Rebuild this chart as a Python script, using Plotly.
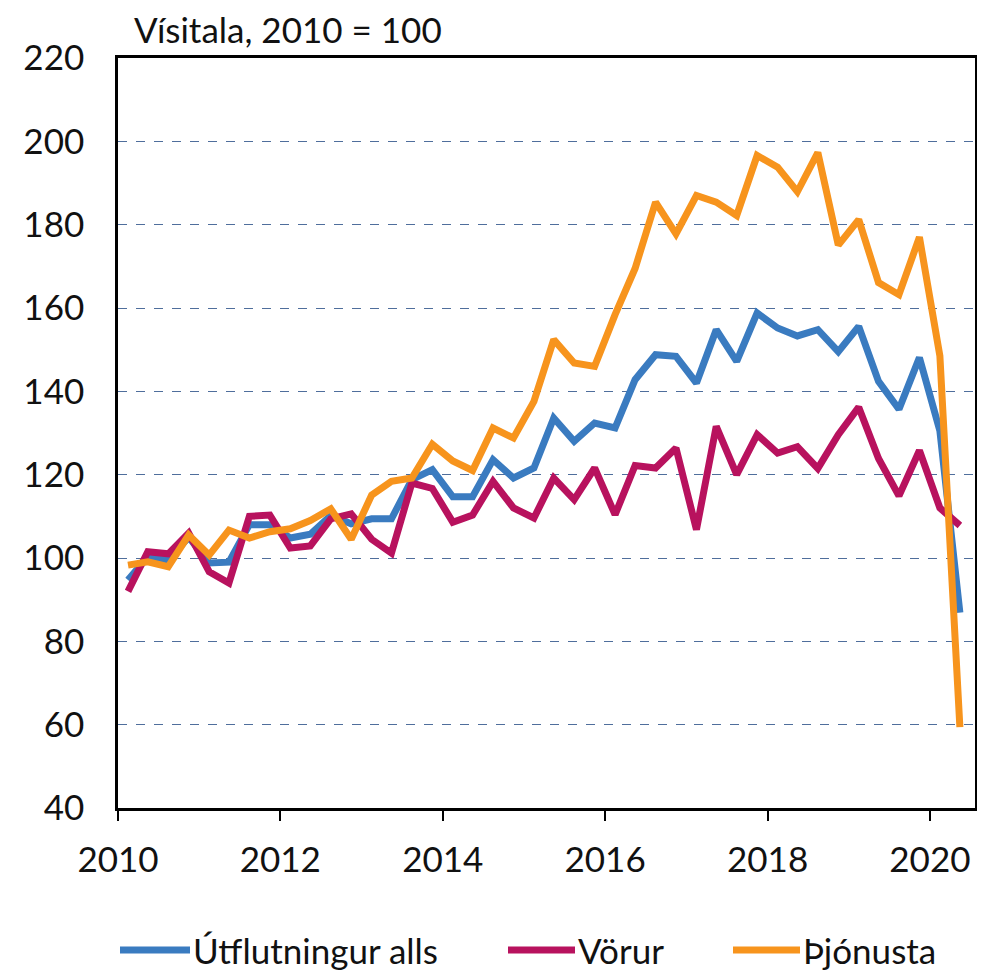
import plotly.graph_objects as go

# Quarterly observations 2010Q1 - 2020Q2 (plotted at mid-quarter)
quarters = [f"{y}Q{q}" for y in range(2010, 2021) for q in range(1, 5)][:42]
mid_month = {1: "02-15", 2: "05-15", 3: "08-15", 4: "11-15"}
dates = [f"{q[:4]}-{mid_month[int(q[-1])]}" for q in quarters]

utflutningur_alls = [
    94.7, 100.3, 99.5, 105.0, 98.8, 99.0, 108.0, 108.0,
    104.8, 105.7, 110.2, 108.2, 109.4, 109.4, 118.8, 121.2,
    114.7, 114.7, 123.6, 119.2, 121.6, 133.6, 128.0, 132.4,
    131.2, 142.8, 148.8, 148.4, 142.0, 154.8, 147.2, 158.8,
    155.2, 153.3, 154.8, 149.5, 155.6, 142.4, 135.7, 148.1,
    130.5, 86.9,
]
vorur = [
    92.0, 101.5, 101.0, 106.0, 96.7, 94.0, 110.0, 110.3,
    102.4, 102.9, 109.4, 110.6, 104.5, 101.2, 118.0, 116.7,
    108.6, 110.3, 118.4, 112.0, 109.6, 119.2, 114.0, 121.6,
    110.4, 122.2, 121.6, 126.4, 106.8, 131.6, 120.0, 129.6,
    125.2, 126.7, 121.5, 129.6, 136.2, 123.9, 114.9, 125.8,
    112.0, 107.8,
]
thjonusta = [
    98.3, 99.1, 97.9, 105.5, 100.7, 106.7, 104.8, 106.3,
    107.0, 109.0, 111.8, 104.5, 115.1, 118.4, 119.2, 127.3,
    123.3, 121.0, 131.2, 128.8, 137.6, 152.4, 146.8, 146.0,
    158.4, 169.5, 185.4, 177.8, 187.0, 185.4, 182.2, 196.6,
    193.8, 187.9, 197.3, 175.1, 181.2, 166.1, 163.2, 177.0,
    148.5, 59.4,
]

series_names = ["Útflutningur alls", "Vörur", "Þjónusta"]
series_colors = ["#3A7BC0", "#B8125E", "#F7941D"]
x_tick_years = [2010, 2012, 2014, 2016, 2018, 2020]
y_ticks = list(range(40, 221, 20))

FONT = "Lato"
TXT = "#111111"
# the page body adds an 8px offset; figure coordinates are window minus 8
W, H = 977, 966
ML, MR, MT, MB = 110, 10, 50, 166
PW, PH = W - ML - MR, H - MT - MB

fig = go.Figure()
for name, vals, col in zip(series_names, [utflutningur_alls, vorur, thjonusta], series_colors):
    fig.add_trace(go.Scatter(
        x=dates, y=vals, name=name, mode="lines",
        line=dict(color=col, width=7),
    ))

# Legend drawn below the plot (long line samples as in the original)
legend_line_px = [(112, 182), (500, 567), (725, 792)]
legend_y_px = 942
shapes, annotations = [], []
for (x0, x1), name, col in zip(legend_line_px, series_names, series_colors):
    yp = (MT + PH - legend_y_px) / PH
    shapes.append(dict(
        type="line", xref="paper", yref="paper",
        x0=(x0 - ML) / PW, x1=(x1 - ML) / PW, y0=yp, y1=yp,
        line=dict(color=col, width=7),
    ))
    annotations.append(dict(
        text=name, xref="paper", yref="paper",
        x=(x1 + 1 - ML) / PW, y=yp, xanchor="left", yanchor="middle",
        showarrow=False, font=dict(family=FONT, size=35, color=TXT),
    ))

annotations.append(dict(
    text="Vísitala, 2010 = 100", xref="paper", yref="paper",
    x=0.016, y=1.0, xanchor="left", yanchor="bottom", yshift=6,
    showarrow=False, font=dict(family=FONT, size=35, color=TXT),
))

fig.update_layout(
    width=W, height=H,
    margin=dict(l=ML, r=MR, t=MT, b=MB, autoexpand=False),
    paper_bgcolor="white", plot_bgcolor="white",
    font=dict(family=FONT, size=35, color=TXT),
    showlegend=False,
    shapes=shapes,
    annotations=annotations,
)

fig.update_xaxes(
    type="date",
    range=["2010-01-01", "2020-07-22"],
    tickvals=[f"{y}-01-01" for y in x_tick_years],
    ticktext=[str(y) for y in x_tick_years],
    ticks="outside", ticklen=10, tickwidth=2, tickcolor="black",
    showline=True, linecolor="black", linewidth=2.5, mirror=True,
    showgrid=False, zeroline=False, automargin=False,
    ticklabelstandoff=9,
)
fig.update_yaxes(
    range=[40, 220], tickvals=y_ticks,
    ticks="", showline=True, linecolor="black", linewidth=2.5, mirror=True,
    showgrid=True, gridcolor="#4F6E9C", griddash="dash", gridwidth=1.3,
    zeroline=False, automargin=False, ticklabelstandoff=24,
)

fig.write_html("out.html")
